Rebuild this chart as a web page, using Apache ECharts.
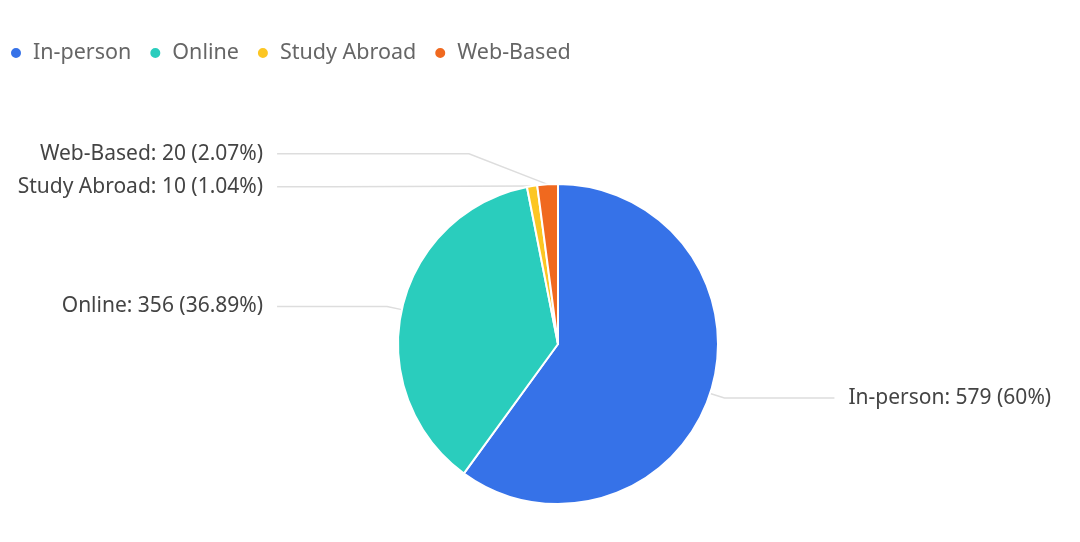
<!DOCTYPE html>
<html>
<head>
<meta charset="utf-8">
<script src="https://cdn.jsdelivr.net/npm/echarts@6/dist/echarts.min.js"></script>
<style>html,body{margin:0;padding:0;background:#fff}#c{width:1080px;height:542px}</style>
</head>
<body>
<div id="c"></div>
<script>
const categories = ['In-person', 'Online', 'Study Abroad', 'Web-Based'];
const values = [579, 356, 10, 20];
const colors = ['#3672E8', '#2ACDBD', '#FCC623', '#F0691F'];

// pie geometry
const CX = 558, CY = 344, R = 160, LEN = 15, LEN2 = 110, LH = 33;

// balanced label stacking (labels pushed apart symmetrically around their natural positions)
const total = values.reduce((a, b) => a + b, 0);
let acc = 0;
const nat = values.map(v => {
  const mid = (acc + v / 2) / total * 2 * Math.PI;
  acc += v;
  return { side: Math.sin(mid) < 0 ? -1 : 1, y: CY - (R + LEN) * Math.cos(mid) };
});
const target = nat.map(n => n.y);
[-1, 1].forEach(side => {
  const idx = nat.map((n, i) => i).filter(i => nat[i].side === side).sort((a, b) => nat[a].y - nat[b].y);
  let clusters = idx.map(i => ({ items: [i], top: nat[i].y }));
  let merged = true;
  while (merged) {
    merged = false;
    for (let j = 0; j < clusters.length - 1; j++) {
      const A = clusters[j], B = clusters[j + 1];
      if (B.top - (A.top + (A.items.length - 1) * LH) < LH) {
        const items = A.items.concat(B.items);
        const top = items.reduce((s, it, k) => s + nat[it].y - k * LH, 0) / items.length;
        clusters.splice(j, 2, { items, top });
        merged = true;
        break;
      }
    }
  }
  clusters.forEach(c => c.items.forEach((it, k) => { target[it] = c.top + k * LH; }));
});

const chart = echarts.init(document.getElementById('c'));
chart.setOption({
  animation: false,
  color: colors,
  legend: {
    left: 4, top: 37,
    icon: 'circle',
    itemWidth: 24, itemHeight: 12,
    itemGap: 17,
    textStyle: { fontSize: 21.5, color: '#666', fontFamily: 'Noto Sans' },
    data: categories
  },
  series: [{
    type: 'pie',
    center: [CX, CY],
    radius: R,
    startAngle: 90,
    itemStyle: { borderColor: '#fff', borderWidth: 2 },
    label: {
      formatter: '{b}: {c} ({d}%)',
      fontSize: 21, lineHeight: LH, color: '#444', fontFamily: 'Noto Sans',
      alignTo: 'labelLine',
      distanceToLabelLine: 14,
      bleedMargin: 5
    },
    labelLine: { length: LEN, length2: LEN2, lineStyle: { color: '#ddd', width: 1.5 } },
    labelLayout: function (p) {
      const pts = p.labelLinePoints;
      const t = target[p.dataIndex];
      if (!pts || t == null) return {};
      const dir = pts[2][0] < pts[0][0] ? -1 : 1;
      const x1 = pts[1][0] + dir * Math.max(0, pts[1][1] - t) * 5;
      return {
        y: t,
        labelLinePoints: [pts[0], [x1, t], [pts[2][0], t]]
      };
    },
    data: categories.map((c, i) => ({ name: c, value: values[i] }))
  }]
});
</script>
</body>
</html>
